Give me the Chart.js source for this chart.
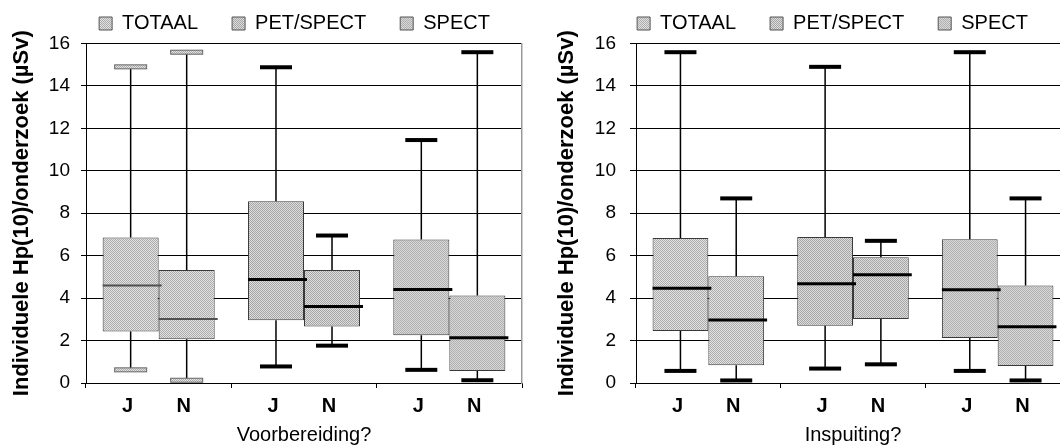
<!DOCTYPE html>
<html>
<head>
<meta charset="utf-8">
<script src="https://cdn.jsdelivr.net/npm/chart.js@4/dist/chart.umd.min.js"></script>
<style>
  html, body { margin: 0; padding: 0; background: #fff; overflow: hidden; }
  #left { position: absolute; left: 0; top: 0; }
  #right { position: absolute; left: 530px; top: 0; }
</style>
</head>
<body>
<canvas id="left" width="530" height="447"></canvas>
<canvas id="right" width="540" height="447"></canvas>
<script>
// categories
var groups = ['TOTAAL', 'PET/SPECT', 'SPECT'];
var yTitle = 'Individuele Hp(10)/onderzoek (\u00b5Sv)';

// Voorbereiding? - J
var voorJMin = [0.62, 0.78, 0.62];
var voorJQ1  = [2.43, 2.96, 2.25];
var voorJMed = [4.59, 4.88, 4.41];
var voorJQ3  = [6.86, 8.56, 6.76];
var voorJMax = [14.90, 14.88, 11.45];
// Voorbereiding? - N
var voorNMin = [0.13, 1.76, 0.13];
var voorNQ1  = [2.06, 2.66, 0.57];
var voorNMed = [3.02, 3.60, 2.13];
var voorNQ3  = [5.32, 5.32, 4.12];
var voorNMax = [15.59, 6.95, 15.59];

// Inspuiting? - J
var inspJMin = [0.57, 0.68, 0.57];
var inspJQ1  = [2.45, 2.70, 2.12];
var inspJMed = [4.46, 4.68, 4.39];
var inspJQ3  = [6.83, 6.88, 6.78];
var inspJMax = [15.59, 14.90, 15.59];
// Inspuiting? - N
var inspNMin = [0.12, 0.88, 0.12];
var inspNQ1  = [0.84, 3.02, 0.80];
var inspNMed = [2.97, 5.10, 2.65];
var inspNQ3  = [5.03, 5.93, 4.60];
var inspNMax = [8.70, 6.70, 8.70];

Chart.defaults.font.family = '"Liberation Sans", Arial, sans-serif';
Chart.defaults.color = '#000';

// little fill patterns, one per group
function makePattern(size, dark, light, isDark) {
    var c = document.createElement('canvas');
    c.width = size; c.height = size;
    var g = c.getContext('2d');
    for (var i = 0; i < size; i++) {
        for (var j = 0; j < size; j++) {
            g.fillStyle = isDark(i, j) ? dark : light;
            g.fillRect(i, j, 1, 1);
        }
    }
    return g.createPattern(c, 'repeat');
}
var checker = function(i, j) { return (i + j) % 2 === 0; };
var patterns = [
    makePattern(2, '#acacac', '#e2e2e2', checker),
    makePattern(2, '#a6a6a6', '#dcdcdc', checker),
    makePattern(2, '#b0b0b0', '#d8d8d8', checker)
];

// whiskers, caps, medians and J/N labels on top of the floating bars
var boxExtras = {
    id: 'boxExtras',
    afterDatasetsDraw: function(chart, args, opts) {
        var ctx = chart.ctx, y = chart.scales.y;
        ctx.save();
        chart.data.datasets.forEach(function(ds, di) {
            chart.getDatasetMeta(di).data.forEach(function(bar, gi) {
                var x = bar.x, w = bar.width;
                var light = opts.lightGroups.indexOf(gi) >= 0;
                var q1 = ds.data[gi][0], q3 = ds.data[gi][1];
                // whiskers
                ctx.strokeStyle = '#000';
                ctx.lineWidth = 1.5;
                ctx.beginPath();
                ctx.moveTo(x, y.getPixelForValue(q3));
                ctx.lineTo(x, y.getPixelForValue(ds.whiskerMax[gi]));
                ctx.moveTo(x, y.getPixelForValue(q1));
                ctx.lineTo(x, y.getPixelForValue(ds.whiskerMin[gi]));
                ctx.stroke();
                // caps
                [ds.whiskerMin[gi], ds.whiskerMax[gi]].forEach(function(v) {
                    var py = y.getPixelForValue(v);
                    if (light) {
                        ctx.fillStyle = patterns[gi];
                        ctx.fillRect(x - 16, py - 2, 32, 4);
                        ctx.strokeStyle = '#666';
                        ctx.lineWidth = 1;
                        ctx.strokeRect(x - 16, py - 2, 32, 4);
                    } else {
                        ctx.fillStyle = '#000';
                        ctx.fillRect(x - 16, py - 2, 32, 4);
                    }
                });
                // median
                var my = y.getPixelForValue(ds.median[gi]);
                ctx.beginPath();
                ctx.strokeStyle = light ? '#505050' : '#000';
                ctx.lineWidth = light ? 2 : 3;
                ctx.moveTo(x - w / 2, my);
                ctx.lineTo(x + w / 2 + 3, my);
                ctx.stroke();
            });
        });
        ctx.restore();
    },
    afterDraw: function(chart) {
        var ctx = chart.ctx;
        ctx.save();
        ctx.font = 'bold 20px "Liberation Sans", Arial, sans-serif';
        ctx.fillStyle = '#000';
        ctx.textAlign = 'center';
        ctx.textBaseline = 'middle';
        chart.data.datasets.forEach(function(ds, di) {
            chart.getDatasetMeta(di).data.forEach(function(bar) {
                ctx.fillText(ds.label, bar.x - 3, chart.chartArea.bottom + 23);
            });
        });
        ctx.restore();
    }
};

function makeChart(canvas, xTitle, J, N, cfg) {
    function ds(label, s) {
        return {
            label: label,
            data: s.q1.map(function(v, i) { return [v, s.q3[i]]; }),
            whiskerMin: s.min,
            whiskerMax: s.max,
            median: s.med,
            backgroundColor: patterns,
            borderColor: '#3a3a3a',
            borderWidth: 1,
            borderSkipped: false,
            categoryPercentage: 0.771,
            barPercentage: 1.0
        };
    }
    return new Chart(canvas.getContext('2d'), {
        type: 'bar',
        data: { labels: groups, datasets: [ds('J', J), ds('N', N)] },
        options: {
            responsive: false,
            animation: false,
            devicePixelRatio: 1,
            layout: { padding: { top: -20.5, left: 0, bottom: 0, right: cfg.padRight } },
            plugins: {
                tooltip: { enabled: false },
                boxExtras: { lightGroups: cfg.lightGroups },
                legend: {
                    position: 'top',
                    onClick: null,
                    labels: {
                        boxWidth: 13,
                        boxHeight: 13,
                        padding: 34,
                        color: '#000',
                        font: { size: 20 },
                        generateLabels: function() {
                            return groups.map(function(g, i) {
                                return { text: g, fillStyle: patterns[i], strokeStyle: '#555', lineWidth: 1, hidden: false, index: i };
                            });
                        }
                    }
                }
            },
            scales: {
                x: {
                    type: 'category',
                    offset: true,
                    ticks: { display: false },
                    grid: { drawOnChartArea: false, drawTicks: true, tickLength: 5, color: '#000' },
                    border: { color: '#000', width: 1 },
                    title: { display: true, text: xTitle, font: { size: 20 }, color: '#000', padding: { top: 0, bottom: 0 } },
                    afterFit: function(scale) { scale.height = 64; }
                },
                y: {
                    min: 0,
                    max: 16,
                    ticks: { stepSize: 2, font: { size: 19 }, color: '#000', padding: cfg.tickPad },
                    grid: { color: '#000', lineWidth: 1, tickLength: cfg.tickLen },
                    border: { color: '#000', width: 1 },
                    title: { display: true, text: yTitle, font: { size: 22, weight: 'bold' }, color: '#000', padding: { top: cfg.titlePad, bottom: 0 } },
                    afterFit: function(scale) { scale.width = cfg.yWidth; }
                },
                yr: {
                    position: 'right',
                    ticks: { display: false },
                    grid: { drawOnChartArea: false, drawTicks: false },
                    border: { color: '#999', width: 1.5 },
                    afterFit: function(scale) { scale.width = cfg.yrWidth; }
                }
            }
        },
        plugins: [boxExtras]
    });
}

makeChart(document.getElementById('left'), 'Voorbereiding?',
    { min: voorJMin, q1: voorJQ1, med: voorJMed, q3: voorJQ3, max: voorJMax },
    { min: voorNMin, q1: voorNQ1, med: voorNMed, q3: voorNQ3, max: voorNMax },
    { padRight: -59, yrWidth: 67, yWidth: 86, titlePad: 9, tickPad: 11, tickLen: 5, lightGroups: [0] });

makeChart(document.getElementById('right'), 'Inspuiting?',
    { min: inspJMin, q1: inspJQ1, med: inspJMed, q3: inspJQ3, max: inspJMax },
    { min: inspNMin, q1: inspNQ1, med: inspNMed, q3: inspNQ3, max: inspNMax },
    { padRight: -65, yrWidth: 62, yWidth: 106, titlePad: 24, tickPad: 14, tickLen: 6, lightGroups: [] });
</script>
</body>
</html>
